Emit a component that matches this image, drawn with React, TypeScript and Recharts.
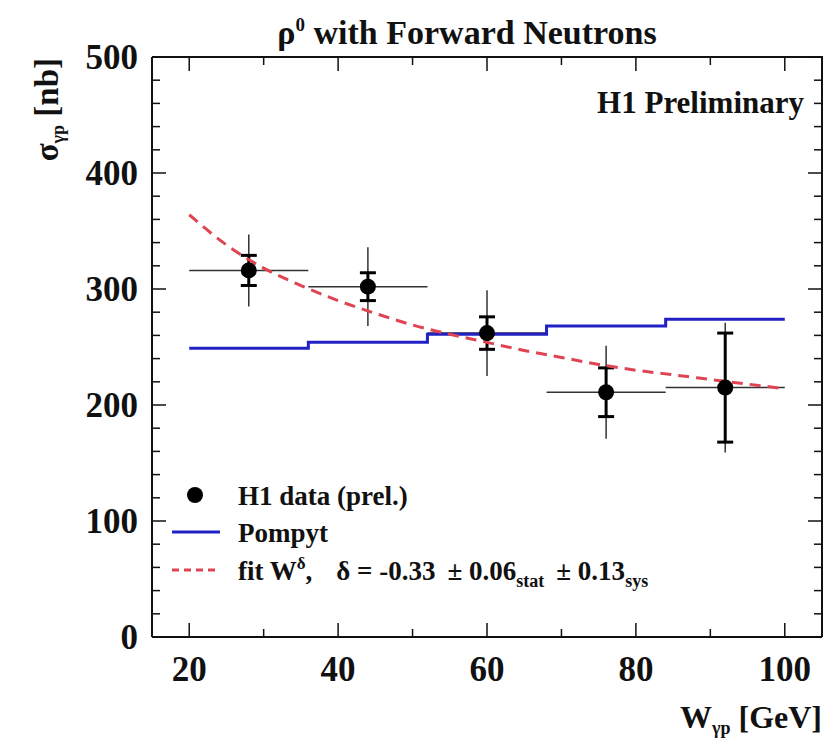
import { ComposedChart, Scatter, Line, XAxis, YAxis, ErrorBar } from 'recharts';

// H1 measurement, rho0 photoproduction with a leading neutron
const wCenters = [28, 44, 60, 76, 92];
const sigmaValues = [316, 302, 262, 211, 215];
const statErrors = [13, 12, 14, 21, 47];
const totalErrors = [31, 34, 37, 40, 56];
const binHalfWidths = [8, 8, 8, 8, 8];

// Pompyt prediction, bin edges and step heights
const pompytW = [20, 36, 52, 68, 84, 100];
const pompytSigma = [249, 254, 261, 268, 274, 274];

// fitted W^delta curve
const fitW = [20, 25, 30, 35, 40, 45, 50, 55, 60, 65, 70, 75, 80, 85, 90, 95, 100];
const fitSigma = [364, 338, 318, 303, 290, 279, 269, 261, 254, 247, 241, 235, 230, 226, 222, 218, 214];

const xTicks = [20, 30, 40, 50, 60, 70, 80, 90, 100];
const xLabels = [20, 40, 60, 80, 100];
const yTicks = [0, 20, 40, 60, 80, 100, 120, 140, 160, 180, 200, 220, 240, 260, 280, 300, 320, 340, 360, 380, 400, 420, 440, 460, 480, 500];
const yLabels = [0, 100, 200, 300, 400, 500];

const X_MIN = 15;
const X_MAX = 105;
const Y_MIN = 0;
const Y_MAX = 500;

const W = 825;
const H = 739;
const MARGIN = { top: 57, right: 3, bottom: 62, left: 92 };
const X_AXIS_H = 40;
const Y_AXIS_W = 60;

// plot box, used for the top/right half of the frame
const PLOT_L = MARGIN.left + Y_AXIS_W;
const PLOT_R = W - MARGIN.right;
const PLOT_T = MARGIN.top;
const PLOT_B = H - MARGIN.bottom - X_AXIS_H;
const sx = (v: number) => PLOT_L + ((v - X_MIN) / (X_MAX - X_MIN)) * (PLOT_R - PLOT_L);
const sy = (v: number) => PLOT_B - ((v - Y_MIN) / (Y_MAX - Y_MIN)) * (PLOT_B - PLOT_T);

const points = wCenters.map((w, i) => ({
  w,
  sigma: sigmaValues[i],
  stat: statErrors[i],
  tot: totalErrors[i],
  dx: binHalfWidths[i],
}));
const pompyt = pompytW.map((w, i) => ({ w, pompyt: pompytSigma[i] }));
const fit = fitW.map((w, i) => ({ w, fit: fitSigma[i] }));

const FONT = '"Liberation Serif", "Times New Roman", serif';
const INK = '#111';
const BLUE = '#2020c4';
const RED = '#de4452';

const tickLen = (major: boolean) => (major ? 14 : 8);

const BottomTick = ({ x, y, payload }: any) => {
  const major = xLabels.includes(payload.value);
  return (
    <g>
      <line x1={x} y1={y} x2={x} y2={y - tickLen(major)} stroke={INK} strokeWidth={1.5} />
      {major && (
        <text x={x} y={y + 44} textAnchor="middle" fontFamily={FONT} fontWeight="bold" fontSize={35} fill={INK}>
          {payload.value}
        </text>
      )}
    </g>
  );
};

const LeftTick = ({ x, y, payload }: any) => {
  const major = yLabels.includes(payload.value);
  return (
    <g>
      <line x1={x} y1={y} x2={x + tickLen(major)} y2={y} stroke={INK} strokeWidth={1.5} />
      {major && (
        <text x={x - 14} y={y + 12} textAnchor="end" fontFamily={FONT} fontWeight="bold" fontSize={35} fill={INK}>
          {payload.value}
        </text>
      )}
    </g>
  );
};

const Dot = ({ cx, cy }: any) => <circle cx={cx} cy={cy} r={8} fill="#000" />;

const axisLine = { stroke: INK, strokeWidth: 2 };

export default function App() {
  return (
    <div style={{ position: 'absolute', left: 0, top: 0, width: W, height: H, background: '#fff' }}>
      <ComposedChart width={W} height={H} margin={MARGIN}>
        <XAxis
          xAxisId="x"
          dataKey="w"
          type="number"
          domain={[X_MIN, X_MAX]}
          allowDataOverflow
          ticks={xTicks}
          height={X_AXIS_H}
          tickSize={0}
          tickMargin={0}
          axisLine={axisLine}
          tick={<BottomTick />}
          interval={0}
        />
        <YAxis
          yAxisId="y"
          type="number"
          domain={[Y_MIN, Y_MAX]}
          allowDataOverflow
          ticks={yTicks}
          width={Y_AXIS_W}
          tickSize={0}
          tickMargin={0}
          axisLine={axisLine}
          tick={<LeftTick />}
          interval={0}
        />
        <Scatter
          xAxisId="x"
          yAxisId="y"
          data={points}
          dataKey="sigma"
          shape={<Dot />}
          isAnimationActive={false}
        >
          <ErrorBar dataKey="dx" direction="x" width={0} stroke="#333" strokeWidth={1.5} />
          <ErrorBar dataKey="tot" direction="y" width={0} stroke="#333" strokeWidth={1.5} />
          <ErrorBar dataKey="stat" direction="y" width={8} stroke="#000" strokeWidth={3} />
        </Scatter>
        <Line
          xAxisId="x"
          yAxisId="y"
          data={pompyt}
          dataKey="pompyt"
          type="stepAfter"
          stroke={BLUE}
          strokeWidth={3}
          dot={false}
          isAnimationActive={false}
        />
        <Line
          xAxisId="x"
          yAxisId="y"
          data={fit}
          dataKey="fit"
          type="monotone"
          stroke={RED}
          strokeWidth={3}
          strokeDasharray="11 7"
          dot={false}
          isAnimationActive={false}
        />
      </ComposedChart>

      <svg
        width={W}
        height={H}
        style={{ position: 'absolute', left: 0, top: 0, pointerEvents: 'none' }}
        fontFamily={FONT}
        fontWeight="bold"
        fill={INK}
      >
        {/* top and right edges of the frame, with inward ticks */}
        <polyline points={`${PLOT_L},${PLOT_T} ${PLOT_R},${PLOT_T} ${PLOT_R},${PLOT_B}`} fill="none" stroke={INK} strokeWidth={2} />
        {xTicks.map((t) => (
          <line key={`tx${t}`} x1={sx(t)} y1={PLOT_T} x2={sx(t)} y2={PLOT_T + tickLen(xLabels.includes(t))} stroke={INK} strokeWidth={1.5} />
        ))}
        {yTicks.map((t) => (
          <line key={`ty${t}`} x1={PLOT_R} y1={sy(t)} x2={PLOT_R - tickLen(yLabels.includes(t))} y2={sy(t)} stroke={INK} strokeWidth={1.5} />
        ))}

        <text x={467} y={44} textAnchor="middle" fontSize={34}>
          ρ<tspan dy={-13} fontSize={19}>0</tspan>
          <tspan dy={13}> with Forward Neutrons</tspan>
        </text>
        <text x={804} y={113} textAnchor="end" fontSize={31}>
          H1 Preliminary
        </text>
        <text transform="translate(58,58) rotate(-90)" textAnchor="end" fontSize={33}>
          σ<tspan dy={6} fontSize={18}>γp</tspan>
          <tspan dy={-6}> [nb]</tspan>
        </text>
        <text x={822} y={728} textAnchor="end" fontSize={32}>
          W<tspan dy={6} fontSize={18}>γp</tspan>
          <tspan dy={-6}> [GeV]</tspan>
        </text>

        {/* legend */}
        <circle cx={195} cy={495} r={8} fill="#000" />
        <text x={238} y={505} fontSize={27}>
          H1 data (prel.)
        </text>
        <line x1={172} y1={532} x2={220} y2={532} stroke={BLUE} strokeWidth={3} />
        <text x={238} y={542} fontSize={27}>
          Pompyt
        </text>
        <line x1={172} y1={570} x2={220} y2={570} stroke={RED} strokeWidth={3} strokeDasharray="7 5" />
        <text x={238} y={580} fontSize={27}>
          fit W<tspan dy={-11} fontSize={17}>δ</tspan>
          <tspan dy={11}>,</tspan>
          <tspan dx={24}>δ = -0.33</tspan>
          <tspan dx={12}>± 0.06</tspan>
          <tspan dy={7} fontSize={18}>stat</tspan>
          <tspan dy={-7} dx={12}>± 0.13</tspan>
          <tspan dy={7} fontSize={18}>sys</tspan>
        </text>
      </svg>
    </div>
  );
}
